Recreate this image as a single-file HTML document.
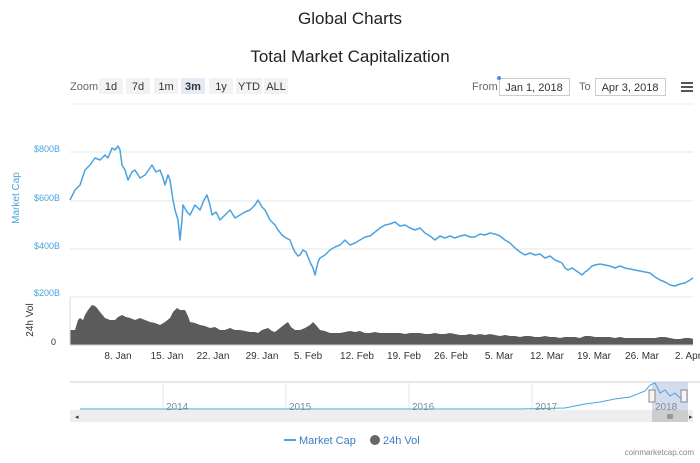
<!DOCTYPE html>
<html><head><meta charset="utf-8"><style>
body{margin:0;background:#fff;width:700px;height:458px;overflow:hidden;font-family:"Liberation Sans",sans-serif}
</style></head><body>
<svg width="700" height="458" xmlns="http://www.w3.org/2000/svg" font-family="Liberation Sans, sans-serif">
<text x="350" y="24" text-anchor="middle" font-size="17" fill="#222">Global Charts</text>
<text x="350" y="62" text-anchor="middle" font-size="17" fill="#222">Total Market Capitalization</text>
<g font-size="11" fill="#333">
<text x="70" y="90" fill="#666">Zoom</text>
<rect x="99" y="78" width="24" height="16" fill="#f2f2f2"/><text x="111" y="90" text-anchor="middle">1d</text>
<rect x="126" y="78" width="24" height="16" fill="#f2f2f2"/><text x="138" y="90" text-anchor="middle">7d</text>
<rect x="154" y="78" width="24" height="16" fill="#f2f2f2"/><text x="166" y="90" text-anchor="middle">1m</text>
<rect x="181" y="78" width="24" height="16" fill="#e4ebf6"/><text x="193" y="90" text-anchor="middle" font-weight="bold">3m</text>
<rect x="209" y="78" width="24" height="16" fill="#f2f2f2"/><text x="221" y="90" text-anchor="middle">1y</text>
<rect x="236" y="78" width="26" height="16" fill="#f2f2f2"/><text x="249" y="90" text-anchor="middle">YTD</text>
<rect x="264" y="78" width="24" height="16" fill="#f2f2f2"/><text x="276" y="90" text-anchor="middle">ALL</text>
<text x="472" y="90" fill="#666">From</text>
<rect x="499.5" y="78.5" width="70" height="17" fill="#fff" stroke="#ccc"/><text x="534" y="91" text-anchor="middle">Jan 1, 2018</text>
<circle cx="499" cy="78" r="2" fill="#4a90e2"/>
<text x="579" y="90" fill="#666">To</text>
<rect x="595.5" y="78.5" width="70" height="17" fill="#fff" stroke="#ccc"/><text x="630" y="91" text-anchor="middle">Apr 3, 2018</text>
</g>
<rect x="681" y="82" width="12" height="2" fill="#555"/><rect x="681" y="86" width="12" height="2" fill="#555"/><rect x="681" y="90" width="12" height="2" fill="#555"/>
<line x1="70" y1="104" x2="693" y2="104" stroke="#eee"/>
<g stroke="#e6e6e6">
<line x1="70" y1="152" x2="693" y2="152"/><line x1="70" y1="201" x2="693" y2="201"/><line x1="70" y1="249" x2="693" y2="249"/><line x1="70" y1="297" x2="693" y2="297"/>
</g>
<g font-size="9" fill="#4aa3df" text-anchor="end">
<text x="60" y="152">$800B</text><text x="60" y="201">$600B</text><text x="60" y="249">$400B</text><text x="60" y="296">$200B</text>
</g>
<text transform="translate(19,198) rotate(-90)" text-anchor="middle" font-size="10" fill="#4aa3df">Market Cap</text>
<text transform="translate(33,320) rotate(-90)" text-anchor="middle" font-size="10" fill="#333">24h Vol</text>
<text x="56" y="345" font-size="9" fill="#333" text-anchor="end">0</text>
<polyline fill="none" stroke="#4aa3df" stroke-width="1.5" stroke-linejoin="round" points="70,200 75,190 80,185 85,170 90,165 95,158 100,160 105,155 108,158 112,148 115,150 118,146 120,150 122,165 125,170 128,180 132,172 135,170 140,178 145,175 150,168 152,165 156,172 160,170 163,178 165,185 168,175 170,180 173,200 175,210 178,220 180,240 182,220 183,205 187,212 190,215 195,205 200,210 204,200 207,195 210,205 212,215 216,212 220,220 225,215 230,210 235,218 240,215 245,212 250,210 255,205 258,200 262,207 265,210 270,220 275,225 278,230 282,235 286,238 290,240 293,248 295,252 298,256 300,255 303,250 306,252 310,262 313,268 315,275 318,262 320,258 325,255 330,250 335,247 340,245 345,240 350,245 355,243 360,240 365,237 370,236 375,232 380,228 385,225 390,224 395,222 400,226 405,225 410,228 415,230 420,228 425,233 430,236 435,240 440,236 445,238 450,236 455,238 460,236 465,235 470,237 475,237 480,234 485,235 490,233 495,234 500,236 505,240 510,243 515,248 520,252 525,255 530,253 535,255 540,254 545,258 550,256 555,260 560,262 562,263 565,268 568,270 572,268 575,270 578,272 582,275 585,272 588,270 592,266 595,265 600,264 605,265 610,266 615,268 620,266 625,268 630,269 635,270 640,271 645,272 650,273 655,277 660,280 665,282 670,285 675,286 680,284 685,283 690,280 693,278"/>
<polygon fill="#5b5b5b" points="70,345 70,330 75,330 78,320 80,318 83,320 85,315 88,310 92,305 95,306 97,308 100,312 105,318 110,320 115,320 118,317 122,315 126,317 130,318 135,320 140,318 145,320 150,322 155,323 160,325 165,322 170,318 173,312 177,308 180,310 185,310 188,316 190,322 195,323 200,325 205,326 210,328 215,327 220,330 225,330 230,328 235,330 240,330 245,331 250,332 255,332 258,333 262,330 268,328 272,331 275,332 280,328 285,324 288,322 291,327 295,330 300,330 305,328 310,325 313,322 316,325 320,330 325,331 330,333 335,333 340,333 345,332 350,331 355,332 360,331 365,333 370,333 375,332 380,333 385,333 390,333 395,333 400,333 405,334 410,333 415,333 420,333 425,334 430,334 435,333 440,334 445,334 450,333 455,334 460,335 465,335 470,334 475,335 480,334 485,335 490,334 495,335 500,336 505,335 510,336 515,336 520,337 525,336 530,336 535,337 540,337 545,336 550,337 555,337 560,338 565,337 570,337 575,337 580,338 585,336 590,336 595,337 600,337 605,337 610,337 615,338 620,337 625,338 630,338 635,338 640,338 645,338 650,338 655,338 660,337 665,337 670,338 675,339 680,339 685,338 690,338 693,339 693,345"/>
<line x1="70" y1="345" x2="693" y2="345" stroke="#ccc"/>
<line x1="70" y1="297" x2="70" y2="345" stroke="#ddd"/>
<g font-size="10" fill="#333" text-anchor="middle">
<text x="118" y="359">8. Jan</text><text x="167" y="359">15. Jan</text><text x="213" y="359">22. Jan</text><text x="262" y="359">29. Jan</text><text x="308" y="359">5. Feb</text><text x="357" y="359">12. Feb</text><text x="404" y="359">19. Feb</text><text x="451" y="359">26. Feb</text><text x="499" y="359">5. Mar</text><text x="547" y="359">12. Mar</text><text x="594" y="359">19. Mar</text><text x="642" y="359">26. Mar</text><text x="688" y="359">2. Apr</text>
</g>
<line x1="70" y1="382" x2="700" y2="382" stroke="#ccc"/>
<g stroke="#e6e6e6"><line x1="163" y1="382" x2="163" y2="410"/><line x1="286" y1="382" x2="286" y2="410"/><line x1="409" y1="382" x2="409" y2="410"/><line x1="532" y1="382" x2="532" y2="410"/></g>
<rect x="652" y="382" width="36" height="40" fill="#c8d3e8" opacity="0.8"/>
<g font-size="10" fill="#888"><text x="166" y="410">2014</text><text x="289" y="410">2015</text><text x="412" y="410">2016</text><text x="535" y="410">2017</text><text x="655" y="410">2018</text></g>
<polyline fill="none" stroke="#4aa3df" stroke-width="1" points="80,409 300,409 520,409 565,408 585,404 600,402 615,399 630,397 645,391 650,385 655,383 660,393 665,390 670,396 675,393 680,398 684,395"/>
<rect x="70" y="410" width="623" height="12" fill="#eee"/>
<rect x="652" y="410" width="36" height="12" fill="#ccc"/>
<text x="670" y="419" font-size="7" fill="#333" text-anchor="middle">III</text>
<rect x="649" y="390" width="6" height="12" fill="#f4f4f4" stroke="#888"/><rect x="681" y="390" width="6" height="12" fill="#f4f4f4" stroke="#888"/>
<text x="75" y="419" font-size="7" fill="#333">◂</text><text x="689" y="419" font-size="7" fill="#333">▸</text>
<line x1="284" y1="440" x2="296" y2="440" stroke="#4aa3df" stroke-width="2"/>
<text x="299" y="444" font-size="11" fill="#3a7dbf">Market Cap</text>
<circle cx="375" cy="440" r="5" fill="#666"/>
<text x="383" y="444" font-size="11" fill="#3a7dbf">24h Vol</text>
<text x="694" y="455" font-size="8" fill="#888" text-anchor="end">coinmarketcap.com</text>
</svg>
</body></html>
